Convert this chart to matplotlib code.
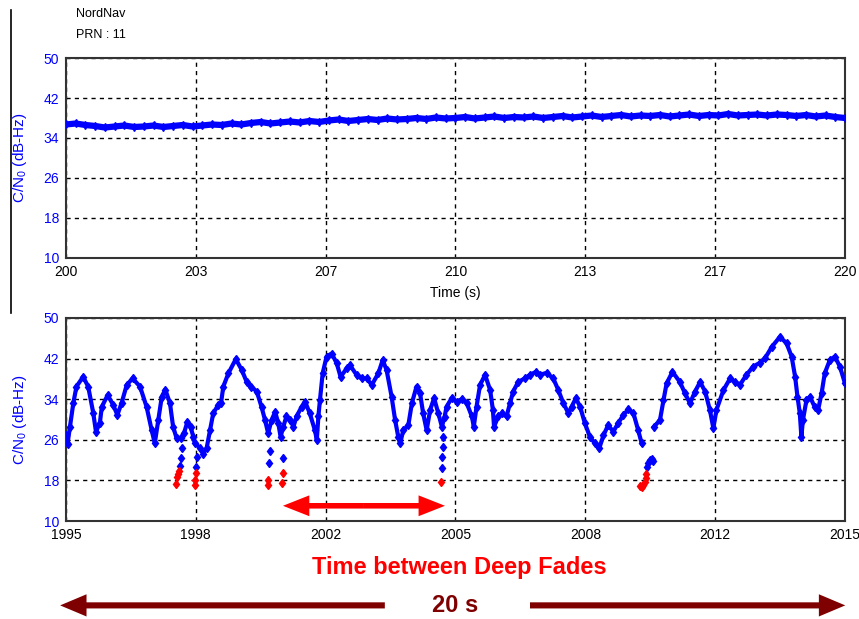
import numpy as np
import matplotlib
matplotlib.use('Agg')
import matplotlib.pyplot as plt
from matplotlib.lines import Line2D
from matplotlib.patches import FancyArrowPatch

plt.rcParams['font.family'] = ['Liberation Sans', 'DejaVu Sans']
plt.rcParams['mathtext.default'] = 'regular'

# ----------------------------------------------------------------------
# DATA
# ----------------------------------------------------------------------
# upper panel: open-sky reference, C/N0 sampled every 0.25 s from 200 s to 220 s
top_v = [
    36.7, 36.9, 36.6, 36.4, 36.1, 36.3, 36.5, 36.2,
    36.3, 36.5, 36.2, 36.4, 36.6, 36.3, 36.5, 36.7,
    36.6, 36.9, 36.7, 37.0, 37.2, 36.9, 37.1, 37.3,
    37.1, 37.4, 37.2, 37.5, 37.7, 37.4, 37.6, 37.8,
    37.6, 37.9, 37.7, 37.8, 38.0, 37.8, 38.1, 37.9,
    38.0, 38.2, 37.9, 38.1, 38.3, 38.0, 38.2, 38.1,
    38.3, 38.0, 38.2, 38.4, 38.1, 38.3, 38.5, 38.2,
    38.4, 38.6, 38.3, 38.5, 38.4, 38.6, 38.3, 38.5,
    38.7, 38.4, 38.6, 38.5, 38.8, 38.5, 38.6, 38.7,
    38.5, 38.7, 38.6, 38.4, 38.6, 38.3, 38.5, 38.2,
    38.0,
]
top_t0, top_t1 = 200, 220

# lower panel: faded signal, main track (NaN = loss of lock)
bot_t = [
    1995.00, 1995.04, 1995.10, 1995.19, 1995.27, 1995.44, 1995.57, 1995.70,
    1995.77, 1995.87, 1995.92, 1996.07, 1996.21, 1996.32, 1996.43, 1996.56,
    1996.71, 1996.90, 1997.07, 1997.20, 1997.28, 1997.37, 1997.46, 1997.55,
    1997.67, 1997.75, 1997.84, 1997.95, 1998.03, 1998.12, 1998.20, 1998.27,
    1998.31, 1998.44, 1998.52, 1998.61, 1998.70, 1998.78, 1998.91, 1998.98,
    1999.04, 1999.17, 1999.36, 1999.51, 1999.64, 1999.75, 1999.90, 2000.02,
    2000.11, 2000.19, 2000.28, 2000.37, 2000.45, 2000.51, 2000.58, 2000.66,
    2000.75, 2000.84, 2000.92, 2001.05, 2001.14, 2001.26, 2001.39, 2001.44,
    2001.48, 2001.52, 2001.59, 2001.69, 2001.82, 2001.95, 2002.05, 2002.21,
    2002.29, 2002.46, 2002.59, 2002.72, 2002.85, 2003.02, 2003.13, 2003.23,
    2003.36, 2003.45, 2003.53, 2003.58, 2003.66, 2003.79, 2003.88, 2004.00,
    2004.09, 2004.17, 2004.26, 2004.35, 2004.45, 2004.56, 2004.65, 2004.72,
    2004.77, 2004.90, 2005.03, 2005.16, 2005.29, 2005.42, 2005.47, 2005.54,
    2005.63, 2005.76, 2005.89, 2005.96, 2005.99, 2006.10, 2006.19, 2006.31,
    2006.40, 2006.48, 2006.61, 2006.78, 2006.91, 2007.07, 2007.17, 2007.34,
    2007.51, 2007.64, 2007.77, 2007.90, 2007.98, 2008.09, 2008.20, 2008.32,
    2008.45, 2008.58, 2008.69, 2008.80, 2008.92, 2009.05, 2009.18, 2009.31,
    2009.44, 2009.57, 2009.69, 2009.78, 2009.95, 2010.10, 2010.25, 2010.34,
    2010.42, 2010.57, 2010.76, 2010.89, 2011.02, 2011.15, 2011.28, 2011.41,
    2011.53, 2011.62, 2011.70, 2011.88, 2012.05, 2012.18, 2012.30, 2012.47,
    2012.64, 2012.82, 2012.95, 2013.12, 2013.33, 2013.50, 2013.63, 2013.72,
    2013.78, 2013.84, 2013.88, 2013.92, 2014.01, 2014.10, 2014.22, 2014.31,
    2014.40, 2014.48, 2014.61, 2014.74, 2014.87, 2015.00,
]
bot_v = [
    27.0, 25.2, 28.5, 33.3, 36.5, 38.4, 36.5, 31.3,
    27.6, 29.3, 32.5, 34.8, 32.9, 30.9, 33.3, 36.8,
    38.1, 36.5, 32.5, 27.9, 25.3, 29.9, 34.5, 35.9,
    33.2, 28.6, 26.3, 26.4, 27.3, 29.6, 28.5, 26.6,
    25.3, 24.4, 23.3, 24.3, 27.9, 31.2, 32.9, 33.2,
    36.5, 39.1, 41.9, 39.8, 37.4, 36.5, 35.5, 32.5,
    29.9, 27.3, 29.9, 31.5, 29.3, 26.6, 28.6, 30.6,
    29.9, 28.6, 30.6, 32.5, 33.5, 31.2, 27.9, 26.0,
    30.6, 33.8, 39.1, 42.4, 43.0, 41.1, 38.4, 40.1,
    40.7, 38.8, 38.1, 38.1, 36.8, 39.1, 41.7, 39.8,
    34.5, 29.9, 26.6, 25.3, 27.9, 28.9, 33.2, 36.5,
    35.2, 31.2, 27.9, 31.9, 34.2, 31.2, 28.6, 30.5,
    32.5, 34.2, 33.5, 34.0, 33.2, 30.6, 28.6, 32.5,
    36.8, 38.8, 35.8, 31.9, 28.6, 30.6, 31.2, 30.6,
    33.2, 35.5, 37.4, 38.1, 38.8, 39.4, 38.8, 39.2,
    38.1, 35.8, 33.2, 31.2, 32.5, 34.2, 32.5, 29.3,
    26.6, 25.3, 24.3, 26.9, 28.9, 27.6, 29.3, 30.9,
    32.0, 31.2, 27.9, 25.3, np.nan, 28.6, 29.9, 33.8,
    37.1, 39.4, 37.4, 35.2, 33.2, 35.5, 37.4, 35.5,
    31.9, 28.3, 31.9, 35.8, 38.1, 37.4, 36.8, 38.8,
    40.4, 41.2, 42.1, 44.3, 46.3, 45.0, 42.4, 38.4,
    34.5, 31.2, 26.6, 29.9, 33.8, 34.5, 32.5, 31.9,
    35.2, 39.1, 41.7, 42.4, 40.4, 37.1,
]

# isolated samples inside the fades (still above threshold)
fade_blue_t = [1997.93, 1997.95, 1997.97, 1998.35, 1998.37, 2000.22, 2000.24,
               2000.58, 2004.65, 2004.66, 2004.67, 2004.68,
               2009.91, 2009.95, 2010.00, 2010.05, 2010.08]
fade_blue_v = [20.8, 22.4, 24.4, 20.6, 22.6, 21.4, 23.7,
               22.4, 20.4, 22.7, 24.6, 26.5,
               20.7, 21.5, 22.0, 22.2, 21.8]

# deep-fade samples (below threshold)
fade_red_t = [1997.82, 1997.85, 1997.87, 1997.89, 1998.31, 1998.32, 1998.33,
              2000.18, 2000.19, 2000.55, 2000.56, 2004.62,
              2009.74, 2009.78, 2009.82, 2009.86, 2009.88, 2009.90]
fade_red_v = [17.2, 18.7, 19.3, 19.9, 17.1, 18.0, 19.5,
              17.1, 18.1, 17.4, 19.4, 17.7,
              16.8, 16.7, 17.0, 17.6, 18.5, 19.3]

bot_t0, bot_t1 = 1995, 2015
y_ticks = [10, 18, 26, 34, 42, 50]
top_xlabels = ['200', '203', '207', '210', '213', '217', '220']
bot_xlabels = ['1995', '1998', '2002', '2005', '2008', '2012', '2015']

# span between two consecutive deep fades
gap_start, gap_end, gap_level = 2000.57, 2004.73, 13.0

BLUE = '#0000ff'
RED = '#ff0000'
DARK_RED = '#7f0000'


def style_axes(ax, t0, t1, xlabels):
    ax.set_xlim(t0, t1)
    ax.set_ylim(10, 50)
    ax.set_xticks(np.linspace(t0, t1, len(xlabels)))
    ax.set_xticklabels(xlabels)
    ax.set_yticks(y_ticks)
    ax.tick_params(axis='y', colors=BLUE, labelsize=10, length=0, pad=5)
    ax.tick_params(axis='x', colors='black', labelsize=10, length=0, pad=5)
    ax.grid(True, color='black', linestyle=(0, (3, 3)), linewidth=1.0)
    for sp in ax.spines.values():
        sp.set_color('#333333')
        sp.set_linewidth(1.5)
    ax.set_ylabel('C/N$_0$ (dB-Hz)', color=BLUE, fontsize=11)
    ax.yaxis.set_label_coords(-0.047, 0.5)


fig = plt.figure(figsize=(8.59, 6.19), dpi=100)

ax1 = fig.add_axes([0.0768, 0.5832, 0.9069, 0.3231])
style_axes(ax1, top_t0, top_t1, top_xlabels)
top_t = np.linspace(top_t0, top_t1, len(top_v))
ax1.plot(top_t, top_v, color=BLUE, lw=4.5, marker='d', ms=4, zorder=3)
ax1.set_xlabel('Time (s)', fontsize=10, labelpad=5)

ax2 = fig.add_axes([0.0768, 0.1583, 0.9069, 0.3280])
style_axes(ax2, bot_t0, bot_t1, bot_xlabels)
ax2.plot(bot_t, bot_v, color=BLUE, lw=3.0, marker='d', ms=4.5, zorder=3)
ax2.plot(fade_blue_t, fade_blue_v, ls='none', color=BLUE, marker='d', ms=4.5, zorder=3)
ax2.plot(fade_red_t, fade_red_v, ls='none', color=RED, marker='d', ms=4.5, zorder=3)

# double arrow between deep fades, drawn outward from the middle
mid = 0.5 * (gap_start + gap_end)
for end in (gap_start, gap_end):
    ax2.add_patch(FancyArrowPatch((mid, gap_level), (end, gap_level),
                                  arrowstyle='simple,head_length=0.95,head_width=0.75,tail_width=0.2',
                                  mutation_scale=20, color=RED, lw=0, zorder=4,
                                  shrinkA=0, shrinkB=0, clip_on=False))

fig.text(0.0885, 0.972, 'NordNav', fontsize=9)
fig.text(0.0885, 0.938, 'PRN : 11', fontsize=9)
fig.add_artist(Line2D([0.013, 0.013], [0.494, 0.984], color='black', lw=1.2))

fig.text(0.535, 0.084, 'Time between Deep Fades', color=RED, fontsize=17,
         fontweight='bold', ha='center', va='center')
fig.text(0.53, 0.022, '20 s', color=DARK_RED, fontsize=17,
         fontweight='bold', ha='center', va='center')
for x0, x1 in ((0.448, 0.070), (0.617, 0.984)):
    fig.add_artist(FancyArrowPatch((x0, 0.022), (x1, 0.022), transform=fig.transFigure,
                                   arrowstyle='simple,head_length=0.95,head_width=0.8,tail_width=0.22',
                                   mutation_scale=20, color=DARK_RED, lw=0,
                                   shrinkA=0, shrinkB=0))

fig.savefig('out.png', dpi=100)
